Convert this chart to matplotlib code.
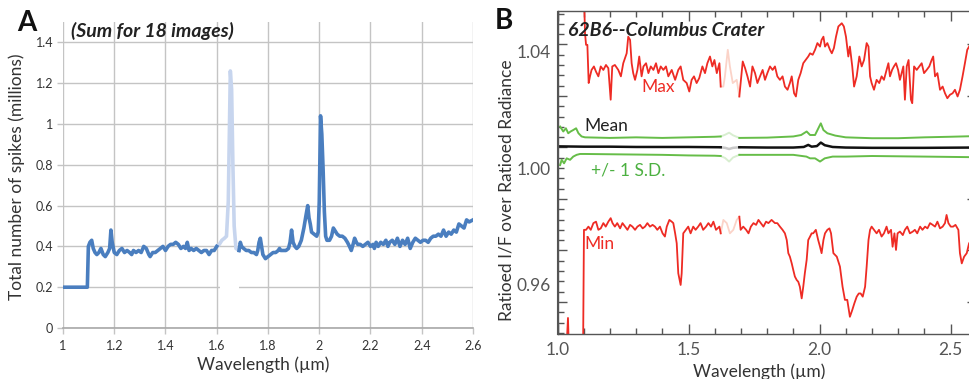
import numpy as np
import matplotlib
matplotlib.use("Agg")
import matplotlib.pyplot as plt
from matplotlib.ticker import FixedLocator, MultipleLocator

plt.rcParams['font.family'] = ['Lato', 'DejaVu Sans']

# ---------------- Panel A data: total number of spikes (millions) ----------------
spk_x = [1.000, 1.095, 1.099, 1.105, 1.112, 1.118, 1.125, 1.132, 1.140, 1.148, 1.157, 1.165, 1.175,
         1.182, 1.187, 1.192, 1.200, 1.210, 1.220, 1.230, 1.240, 1.250, 1.260, 1.268, 1.275, 1.285,
         1.295, 1.305, 1.315, 1.325, 1.335, 1.340, 1.350, 1.360, 1.370, 1.380, 1.390, 1.400, 1.410,
         1.420, 1.430, 1.440, 1.450, 1.460, 1.470, 1.478, 1.485, 1.492, 1.500, 1.510, 1.520, 1.530,
         1.540, 1.550, 1.560, 1.570, 1.580, 1.590, 1.600,
         1.610, 1.620, 1.630, 1.638, 1.645, 1.653, 1.658, 1.663, 1.668, 1.675, 1.687,
         1.692, 1.697, 1.705, 1.715, 1.725, 1.735, 1.745, 1.755, 1.760, 1.765, 1.770, 1.775, 1.780,
         1.790, 1.800, 1.810, 1.820, 1.830, 1.840, 1.845, 1.850, 1.860, 1.870, 1.880, 1.886, 1.892,
         1.898, 1.905, 1.912, 1.920, 1.930, 1.940, 1.948, 1.955, 1.960, 1.965, 1.970, 1.980, 1.990,
         1.996, 2.000, 2.005, 2.010, 2.015, 2.020, 2.025, 2.030, 2.040, 2.048, 2.055, 2.060, 2.070,
         2.080, 2.090, 2.100, 2.110, 2.118, 2.125, 2.132, 2.138, 2.145, 2.150, 2.160, 2.170, 2.180,
         2.190, 2.200, 2.210, 2.215, 2.222, 2.230, 2.240, 2.250, 2.260, 2.268, 2.275, 2.285, 2.295,
         2.305, 2.315, 2.325, 2.335, 2.345, 2.355, 2.365, 2.375, 2.385, 2.395, 2.405, 2.415, 2.425,
         2.435, 2.445, 2.455, 2.465, 2.475, 2.485, 2.495, 2.505, 2.515, 2.525, 2.535, 2.545, 2.555,
         2.565, 2.575, 2.585, 2.600]
spk_y = [0.20, 0.20, 0.40, 0.42, 0.43, 0.39, 0.37, 0.36, 0.37, 0.39, 0.36, 0.35, 0.37,
         0.39, 0.48, 0.42, 0.37, 0.36, 0.38, 0.39, 0.37, 0.38, 0.37, 0.36, 0.38, 0.37,
         0.38, 0.37, 0.40, 0.39, 0.36, 0.35, 0.37, 0.37, 0.38, 0.39, 0.40, 0.38, 0.40,
         0.41, 0.41, 0.42, 0.41, 0.39, 0.40, 0.39, 0.42, 0.38, 0.39, 0.38, 0.39, 0.38,
         0.37, 0.38, 0.38, 0.36, 0.38, 0.38, 0.40,
         0.41, 0.43, 0.44, 0.45, 0.62, 1.26, 1.17, 0.80, 0.50, 0.39, 0.38,
         0.42, 0.40, 0.39, 0.38, 0.38, 0.37, 0.37, 0.36, 0.38, 0.42, 0.44, 0.40, 0.36,
         0.34, 0.35, 0.36, 0.37, 0.37, 0.38, 0.39, 0.38, 0.38, 0.38, 0.39, 0.42, 0.48,
         0.42, 0.40, 0.39, 0.40, 0.43, 0.49, 0.55, 0.60, 0.54, 0.51, 0.47, 0.46, 0.45,
         0.47, 0.62, 1.04, 0.95, 0.78, 0.57, 0.45, 0.43, 0.43, 0.45, 0.49, 0.48, 0.46,
         0.45, 0.45, 0.44, 0.42, 0.40, 0.38, 0.41, 0.44, 0.42, 0.41, 0.41, 0.40, 0.41,
         0.42, 0.40, 0.41, 0.39, 0.42, 0.40, 0.42, 0.41, 0.43, 0.40, 0.42, 0.43, 0.41,
         0.44, 0.40, 0.43, 0.41, 0.44, 0.39, 0.42, 0.44, 0.43, 0.42, 0.43, 0.43, 0.42,
         0.44, 0.45, 0.45, 0.46, 0.45, 0.48, 0.45, 0.47, 0.46, 0.48, 0.47, 0.51, 0.50,
         0.49, 0.53, 0.52, 0.53]
spk_gap = (1.600, 1.687)   # filter-boundary band drawn faded

# ---------------- Panel B data: ratioed I/F over ratioed radiance ----------------
max_x = [1.040, 1.090, 1.101, 1.105, 1.109, 1.114, 1.119, 1.124, 1.130, 1.139, 1.147, 1.156, 1.165,
         1.175, 1.185, 1.194, 1.203, 1.209, 1.219, 1.232, 1.242, 1.251, 1.264, 1.270, 1.277, 1.283,
         1.289, 1.296, 1.305, 1.312, 1.321, 1.328, 1.338, 1.347, 1.356, 1.366, 1.376, 1.385, 1.394,
         1.404, 1.414, 1.423, 1.436, 1.449, 1.461, 1.470, 1.480, 1.493, 1.503, 1.512, 1.521, 1.531,
         1.541, 1.553, 1.563, 1.572, 1.582, 1.591, 1.599, 1.608, 1.618, 1.623,
         1.633, 1.639, 1.650, 1.658, 1.669, 1.684, 1.694,
         1.707, 1.716, 1.725, 1.735, 1.744, 1.754, 1.763, 1.773, 1.783, 1.792, 1.801, 1.811, 1.821,
         1.830, 1.839, 1.849, 1.859, 1.868, 1.878, 1.887, 1.894, 1.903, 1.910, 1.919, 1.928, 1.938,
         1.947, 1.957, 1.964, 1.974, 1.983, 1.992, 2.002, 2.008, 2.015, 2.021, 2.030, 2.040, 2.047,
         2.055, 2.063, 2.072, 2.085, 2.093, 2.101, 2.110, 2.116, 2.125, 2.132, 2.142, 2.152, 2.161,
         2.170, 2.180, 2.187, 2.193, 2.199, 2.208, 2.218, 2.228, 2.237, 2.246, 2.256, 2.263, 2.269,
         2.277, 2.284, 2.292, 2.300, 2.307, 2.320, 2.326, 2.333, 2.340, 2.349, 2.354, 2.361, 2.371,
         2.381, 2.390, 2.399, 2.409, 2.419, 2.428, 2.434, 2.441, 2.450, 2.460, 2.470, 2.479, 2.488,
         2.498, 2.508, 2.517, 2.527, 2.536, 2.546, 2.555, 2.564, 2.571, 2.585]
max_y = [1.0700, 1.0700, 1.0600, 1.0463, 1.0423, 1.0423, 1.0292, 1.0315, 1.0337, 1.0349, 1.0331, 1.0315, 1.0349,
         1.0337, 1.0354, 1.0343, 1.0235, 1.0349, 1.0354, 1.0337, 1.0315, 1.0360, 1.0394, 1.0451, 1.0440, 1.0360,
         1.0326, 1.0303, 1.0337, 1.0383, 1.0315, 1.0349, 1.0360, 1.0326, 1.0349, 1.0337, 1.0360, 1.0326, 1.0349,
         1.0337, 1.0349, 1.0315, 1.0337, 1.0303, 1.0337, 1.0349, 1.0303, 1.0292, 1.0263, 1.0303, 1.0315, 1.0292,
         1.0309, 1.0349, 1.0326, 1.0360, 1.0383, 1.0349, 1.0371, 1.0326, 1.0360, 1.0280,
         1.0280, 1.0315, 1.0406, 1.0349, 1.0292, 1.0303, 1.0246,
         1.0366, 1.0343, 1.0315, 1.0280, 1.0349, 1.0326, 1.0292, 1.0315, 1.0337, 1.0303, 1.0326, 1.0349, 1.0337,
         1.0349, 1.0315, 1.0303, 1.0315, 1.0280, 1.0269, 1.0292, 1.0315, 1.0257, 1.0246, 1.0303, 1.0326, 1.0360,
         1.0371, 1.0383, 1.0394, 1.0389, 1.0406, 1.0429, 1.0417, 1.0440, 1.0451, 1.0417, 1.0429, 1.0406, 1.0394,
         1.0412, 1.0451, 1.0486, 1.0497, 1.0486, 1.0451, 1.0383, 1.0417, 1.0349, 1.0280, 1.0315, 1.0383, 1.0349,
         1.0371, 1.0429, 1.0417, 1.0315, 1.0292, 1.0269, 1.0303, 1.0292, 1.0315, 1.0303, 1.0337, 1.0360, 1.0315,
         1.0337, 1.0349, 1.0360, 1.0337, 1.0303, 1.0349, 1.0235, 1.0349, 1.0371, 1.0235, 1.0223, 1.0349, 1.0337,
         1.0349, 1.0360, 1.0326, 1.0337, 1.0349, 1.0371, 1.0383, 1.0315, 1.0326, 1.0269, 1.0280, 1.0257, 1.0240,
         1.0252, 1.0257, 1.0269, 1.0246, 1.0269, 1.0315, 1.0360, 1.0406, 1.0417, 1.0440]

min_x = [1.030, 1.040, 1.046, 1.097, 1.101, 1.109, 1.118, 1.127, 1.137, 1.147, 1.156, 1.165, 1.175,
         1.184, 1.194, 1.203, 1.210, 1.219, 1.228, 1.239, 1.248, 1.258, 1.267, 1.277, 1.286, 1.296,
         1.305, 1.315, 1.325, 1.334, 1.343, 1.353, 1.363, 1.372, 1.381, 1.391, 1.401, 1.410, 1.417,
         1.427, 1.436, 1.442, 1.449, 1.455, 1.461, 1.470, 1.474, 1.480, 1.490, 1.499, 1.508, 1.518,
         1.527, 1.537, 1.546, 1.556, 1.567, 1.576, 1.586, 1.595, 1.605, 1.618, 1.623,
         1.633, 1.646, 1.658, 1.671, 1.684, 1.694,
         1.699, 1.709, 1.720, 1.729, 1.738, 1.748, 1.758, 1.767, 1.776, 1.786, 1.796, 1.805, 1.817,
         1.830, 1.839, 1.849, 1.859, 1.868, 1.875, 1.881, 1.887, 1.894, 1.900, 1.906, 1.913, 1.919,
         1.925, 1.932, 1.938, 1.944, 1.951, 1.957, 1.964, 1.970, 1.976, 1.986, 1.995, 2.002, 2.008,
         2.015, 2.021, 2.030, 2.038, 2.044, 2.053, 2.066, 2.078, 2.088, 2.097, 2.106, 2.116, 2.125,
         2.133, 2.142, 2.150, 2.157, 2.165, 2.174, 2.180, 2.187, 2.193, 2.199, 2.208, 2.218, 2.227,
         2.237, 2.246, 2.256, 2.263, 2.273, 2.279, 2.286, 2.292, 2.298, 2.307, 2.318, 2.326, 2.335,
         2.345, 2.356, 2.364, 2.373, 2.384, 2.393, 2.403, 2.412, 2.422, 2.432, 2.441, 2.450, 2.460,
         2.470, 2.479, 2.485, 2.492, 2.501, 2.510, 2.519, 2.530, 2.536, 2.543, 2.552, 2.562, 2.571,
         2.585]
min_y = [0.9300, 0.9487, 0.9300, 0.9300, 0.9789, 0.9789, 0.9800, 0.9789, 0.9812, 0.9817, 0.9789, 0.9794, 0.9812,
         0.9800, 0.9817, 0.9829, 0.9812, 0.9800, 0.9812, 0.9794, 0.9812, 0.9800, 0.9789, 0.9806, 0.9800, 0.9789,
         0.9800, 0.9806, 0.9794, 0.9800, 0.9812, 0.9800, 0.9806, 0.9800, 0.9789, 0.9800, 0.9777, 0.9766, 0.9800,
         0.9823, 0.9817, 0.9812, 0.9777, 0.9743, 0.9640, 0.9600, 0.9640, 0.9777, 0.9789, 0.9800, 0.9777, 0.9800,
         0.9789, 0.9800, 0.9812, 0.9789, 0.9800, 0.9812, 0.9800, 0.9817, 0.9789, 0.9800, 0.9777,
         0.9823, 0.9812, 0.9777, 0.9789, 0.9823, 0.9834,
         0.9789, 0.9800, 0.9789, 0.9777, 0.9800, 0.9812, 0.9806, 0.9823, 0.9812, 0.9800, 0.9817, 0.9812, 0.9823,
         0.9812, 0.9812, 0.9800, 0.9789, 0.9777, 0.9754, 0.9709, 0.9697, 0.9674, 0.9651, 0.9629, 0.9617, 0.9611,
         0.9594, 0.9554, 0.9594, 0.9640, 0.9686, 0.9754, 0.9766, 0.9777, 0.9777, 0.9789, 0.9754, 0.9731, 0.9709,
         0.9754, 0.9777, 0.9789, 0.9794, 0.9777, 0.9709, 0.9697, 0.9663, 0.9594, 0.9549, 0.9549, 0.9491, 0.9514,
         0.9537, 0.9560, 0.9571, 0.9571, 0.9560, 0.9594, 0.9663, 0.9754, 0.9789, 0.9800, 0.9789, 0.9777, 0.9789,
         0.9766, 0.9777, 0.9800, 0.9777, 0.9789, 0.9731, 0.9777, 0.9720, 0.9777, 0.9783, 0.9771, 0.9789, 0.9800,
         0.9777, 0.9783, 0.9789, 0.9777, 0.9800, 0.9789, 0.9800, 0.9794, 0.9812, 0.9806, 0.9800, 0.9817, 0.9794,
         0.9800, 0.9812, 0.9840, 0.9812, 0.9800, 0.9800, 0.9806, 0.9789, 0.9709, 0.9674, 0.9697, 0.9709, 0.9743,
         0.9760]

mean_x = [1.010, 1.100, 1.200, 1.300, 1.400, 1.500, 1.623, 1.640, 1.655, 1.670, 1.694,
          1.800, 1.900, 1.940, 1.957, 1.970, 1.990, 2.005, 2.020, 2.050, 2.100, 2.200, 2.400, 2.585]
mean_y = [1.0075, 1.0074, 1.0074, 1.0073, 1.0073, 1.0073, 1.0072, 1.0070, 1.0066, 1.0070, 1.0072,
          1.0071, 1.0071, 1.0073, 1.0080, 1.0074, 1.0076, 1.0088, 1.0079, 1.0073, 1.0071, 1.0070, 1.0070, 1.0071]

sdhi_x = [1.010, 1.022, 1.032, 1.041, 1.050, 1.060, 1.071, 1.080, 1.092, 1.105, 1.200, 1.300, 1.400,
          1.500, 1.600, 1.623, 1.640, 1.655, 1.670, 1.694, 1.800, 1.900, 1.930, 1.951, 1.964, 1.983,
          2.000, 2.005, 2.015, 2.030, 2.060, 2.100, 2.200, 2.300, 2.400, 2.500, 2.585]
sdhi_y = [1.0143, 1.0126, 1.0137, 1.0120, 1.0126, 1.0131, 1.0137, 1.0120, 1.0109, 1.0106, 1.0104, 1.0106, 1.0104,
          1.0106, 1.0108, 1.0109, 1.0115, 1.0122, 1.0113, 1.0104, 1.0105, 1.0109, 1.0114, 1.0126, 1.0114, 1.0114,
          1.0145, 1.0154, 1.0131, 1.0120, 1.0112, 1.0106, 1.0103, 1.0103, 1.0106, 1.0108, 1.0110]

sdlo_x = [1.010, 1.016, 1.025, 1.035, 1.048, 1.060, 1.073, 1.086, 1.105, 1.200, 1.300, 1.400, 1.500,
          1.600, 1.623, 1.640, 1.655, 1.670, 1.694, 1.800, 1.900, 1.950, 1.964, 1.983, 2.002, 2.020,
          2.050, 2.100, 2.200, 2.400, 2.585]
sdlo_y = [1.0011, 1.0029, 1.0017, 1.0034, 1.0029, 1.0040, 1.0046, 1.0049, 1.0049, 1.0048, 1.0047, 1.0046, 1.0044,
          1.0043, 1.0042, 1.0035, 1.0023, 1.0037, 1.0046, 1.0046, 1.0046, 1.0040, 1.0034, 1.0034, 1.0023, 1.0034,
          1.0040, 1.0040, 1.0042, 1.0040, 1.0038]

b_gap = (1.623, 1.694)

xticks_a = [1, 1.2, 1.4, 1.6, 1.8, 2, 2.2, 2.4, 2.6]
xticklabels_a = ['1', '1.2', '1.4', '1.6', '1.8', '2', '2.2', '2.4', '2.6']
yticks_a = [0, 0.2, 0.4, 0.6, 0.8, 1.0, 1.2, 1.4]
yticklabels_a = ['0', '0.2', '0.4', '0.6', '0.8', '1', '1.2', '1.4']
xticks_b = [1.0, 1.5, 2.0, 2.5]
yticks_b = [0.96, 1.00, 1.04]

# ---------------- figure ----------------
W, H = 969, 379
fig = plt.figure(figsize=(W / 100, H / 100), dpi=100)


def fx(px):
    return px / W


def fy(py):
    return 1 - py / H


def split(x, y, gap):
    x = np.asarray(x)
    y = np.asarray(y)
    a = x <= gap[0]
    b = (x >= gap[0]) & (x <= gap[1])
    c = x >= gap[1]
    return (x[a], y[a]), (x[b], y[b]), (x[c], y[c])


# ---- Panel A ----
axA = fig.add_axes([fx(63), fy(328), fx(473) - fx(63), fy(22) - fy(328)])
gridc = '#c4c4c4'
axA.set_xlim(1, 2.6)
axA.set_ylim(0, 1.5)
axA.set_xticks(xticks_a)
axA.set_xticklabels(xticklabels_a)
axA.set_yticks(yticks_a)
axA.set_yticklabels(yticklabels_a)
axA.grid(True, color=gridc, lw=1.0)
axA.set_axisbelow(True)
for s in ['left', 'top', 'right']:
    axA.spines[s].set_visible(False)
axA.spines['bottom'].set_color('#a8a8a8')
axA.spines['bottom'].set_linewidth(1.2)
axA.tick_params(axis='both', colors=gridc, length=4, width=1.0, labelcolor='#333333', labelsize=9)
axA.tick_params(axis='x', pad=5)
axA.tick_params(axis='y', pad=3)

(ax1, ay1), (bx1, by1), (cx1, cy1) = split(spk_x, spk_y, spk_gap)
axA.fill_between([1.612, 1.685], 0.185, 0.215, color='white', zorder=2, lw=0)
axA.plot(bx1, by1, color='#c7d5ee', lw=2.6, solid_joinstyle='round', zorder=3)
axA.plot(ax1, ay1, color='#4a7ebf', lw=2.6, solid_joinstyle='round', zorder=4)
axA.plot(cx1, cy1, color='#4a7ebf', lw=2.6, solid_joinstyle='round', zorder=4)

fig.text(fx(17), fy(23), 'A', fontsize=20, fontweight='bold', ha='left', va='center', color='#111111')
fig.text(fx(71), fy(31), '(Sum for 18 images)', fontsize=14, fontweight='bold', fontstyle='italic',
         ha='left', va='center', color='#222222')
fig.text(fx(17), fy(177), 'Total number of spikes (millions)', fontsize=12.5, rotation=90,
         ha='center', va='center', color='#333333')
fig.text(fx(263), fy(365), 'Wavelength (µm)', fontsize=12.5, ha='center', va='center', color='#333333')

# ---- Panel B ----
x0, x1 = 1.0, 2.6
px_per_unit = 262.0
axB = fig.add_axes([fx(557.5), fy(334), (x1 - x0) * px_per_unit / W, fy(10.7) - fy(334)])
axB.set_xlim(x0, x1)
axB.set_ylim(0.9432, 1.0540)
spc = '#555555'
for s in axB.spines.values():
    s.set_color(spc)
    s.set_linewidth(1.0)
axB.set_xticks(xticks_b)
axB.set_xticklabels(['1.0', '1.5', '2.0', '2.5'])
axB.xaxis.set_minor_locator(MultipleLocator(0.1))
axB.tick_params(axis='x', which='major', direction='in', length=7, width=1.0, colors=spc,
                top=True, labelsize=12.5, labelcolor='#555555', pad=6)
axB.tick_params(axis='x', which='minor', direction='in', length=4, width=1.0, colors=spc, top=True)

axB.set_yticks(yticks_b)
axB.set_yticklabels(['0.96', '1.00', '1.04'])
axB.tick_params(axis='y', which='major', length=0, labelsize=12.5, labelcolor='#555555', pad=5)
long_step = 0.01765
long_ticks = 0.9542 + long_step * np.arange(6)
short_ticks = [v for v in (0.9542 - 3 * long_step / 5 + long_step / 5 * np.arange(32))
               if v > 0.9432 and v < 1.054 and np.min(np.abs(long_ticks - v)) > 1e-4]
axB.yaxis.set_minor_locator(FixedLocator(short_ticks))
axB.tick_params(axis='y', which='minor', direction='in', length=4, width=1.0, colors=spc, right=True)
for side in ['left', 'right']:
    sec = axB.secondary_yaxis(side)
    sec.set_yticks(long_ticks)
    sec.set_yticklabels([])
    sec.tick_params(direction='in', length=7, width=1.0, colors=spc)
    sec.spines[side].set_color(spc)

red, red_l = '#ee2b24', '#fbd3c8'
green, green_l = '#66bd48', '#d8eed0'
black, black_l = '#111111', '#c9c9c9'
series = [(max_x, max_y, red, red_l, 1.3), (min_x, min_y, red, red_l, 1.3),
          (sdhi_x, sdhi_y, green, green_l, 1.4), (sdlo_x, sdlo_y, green, green_l, 1.4),
          (mean_x, mean_y, black, black_l, 1.8)]
for xs, ys, c, cl, lw in series:
    (a_x, a_y), (b_x, b_y), (c_x, c_y) = split(xs, ys, b_gap)
    axB.plot(b_x, b_y, color=cl, lw=lw)
    axB.plot(a_x, a_y, color=c, lw=lw)
    axB.plot(c_x, c_y, color=c, lw=lw)

fig.text(fx(495), fy(21), 'B', fontsize=20, fontweight='bold', ha='left', va='center', color='#111111')
fig.text(fx(568), fy(31), '62B6--Columbus Crater', fontsize=14, fontweight='bold', fontstyle='italic',
         ha='left', va='center', color='#222222')
fig.text(fx(658), fy(87), 'Max', fontsize=12.5, ha='center', va='center', color=red)
fig.text(fx(606), fy(126), 'Mean', fontsize=12.5, ha='center', va='center', color='#222222')
fig.text(fx(628), fy(170), '+/- 1 S.D.', fontsize=12.5, ha='center', va='center', color='#4cb040')
fig.text(fx(599), fy(244), 'Min', fontsize=12.5, ha='center', va='center', color=red)
fig.text(fx(507), fy(190), 'Ratioed I/F over Ratioed Radiance', fontsize=12.5, rotation=90,
         ha='center', va='center', color='#333333')
fig.text(fx(759), fy(372), 'Wavelength (µm)', fontsize=12.5, ha='center', va='center', color='#333333')

fig.savefig('out.png', dpi=100)
